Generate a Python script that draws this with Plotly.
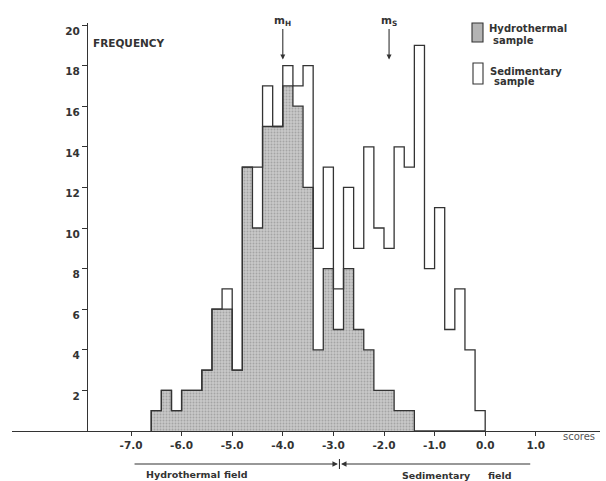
import plotly.graph_objects as go

# ---- data ----
bin_edges = [-6.6, -6.4, -6.2, -6.0, -5.8, -5.6, -5.4, -5.2, -5.0, -4.8, -4.6,
             -4.4, -4.2, -4.0, -3.8, -3.6, -3.4, -3.2, -3.0, -2.8, -2.6, -2.4,
             -2.2, -2.0, -1.8, -1.6, -1.4, -1.2, -1.0, -0.8, -0.6, -0.4, -0.2, 0.0]
hydrothermal = [1, 2, 1, 2, 2, 3, 6, 6, 3, 13, 10, 15, 15, 17, 16, 12, 4, 8, 5, 8,
                5, 4, 2, 2, 1, 1, 0, 0, 0, 0, 0, 0, 0]
sedimentary = [0, 0, 0, 0, 0, 0, 0, 1, 0, 0, 3, 2, 0, 1, 1, 6, 5, 5, 2, 4,
               4, 10, 8, 7, 13, 12, 19, 8, 11, 5, 7, 4, 1]
x_tickvals = [-7.0, -6.0, -5.0, -4.0, -3.0, -2.0, -1.0, 0.0, 1.0]
x_ticktext = ["-7.0", "-6.0", "-5.0", "-4.0", "-3.0", "-2.0", "-1.0", "0.0", "1.0"]
y_tickvals = [2, 4, 6, 8, 10, 12, 14, 16, 18, 20]
m_H = -4.0
m_S = -1.9
field_boundary = -2.88
hydro_field_start = -6.96
sed_field_end = 0.92

INK = "#333333"
GREY = "#b4b4b4"
FONT = "DejaVu Sans"

total = [h + s for h, s in zip(hydrothermal, sedimentary)]


def step_xy(edges, vals):
    xs = [edges[0]] + list(edges[:-1]) + [edges[-1]]
    ys = [0] + list(vals) + [0]
    return xs, ys


fig = go.Figure()

hx, hy = step_xy(bin_edges, hydrothermal)
fig.add_trace(go.Scatter(
    x=hx, y=hy, mode="lines", line=dict(shape="hv", color=INK, width=1.3),
    fill="tozeroy", fillcolor=GREY,
    fillpattern=dict(shape=".", fgcolor="#808080", bgcolor="#c8c8c8", size=3, solidity=0.3),
    name="Hydrothermal sample", showlegend=False, hoverinfo="skip"))

tx, ty = step_xy(bin_edges, total)
fig.add_trace(go.Scatter(
    x=tx, y=ty, mode="lines", line=dict(shape="hv", color=INK, width=1.3),
    name="Sedimentary sample", showlegend=False, hoverinfo="skip"))

W, H = 606, 481
ml, mr, mt, mb = 12, 6, 23, 50
pw = W - ml - mr
ph = H - mt - mb
yaxis_pos = (87 - ml) / pw


def py2paper(py):
    return (H - mb - py) / ph


def px2paper(px):
    return (px - ml) / pw


tick_font = dict(family=FONT, size=10.5, color=INK, weight="bold")

fig.update_layout(
    width=W, height=H,
    margin=dict(l=ml, r=mr, t=mt, b=mb),
    paper_bgcolor="white", plot_bgcolor="white",
    showlegend=False,
    xaxis=dict(range=[-9.352, 2.269], showgrid=False, zeroline=False,
               showline=True, linecolor=INK, linewidth=1.3,
               ticks="outside", ticklen=4, tickcolor=INK, tickwidth=1,
               tickvals=x_tickvals, ticktext=x_ticktext, tickfont=tick_font),
    yaxis=dict(range=[0, 20.1], anchor="free", position=yaxis_pos,
               showgrid=False, zeroline=False,
               showline=True, linecolor=INK, linewidth=1.3,
               ticks="outside", ticklen=5, tickcolor=INK, tickwidth=1,
               tickvals=y_tickvals, ticklabelshift=6, tickfont=tick_font),
)

ann_font = dict(family=FONT, size=10, color=INK, weight="bold")
small_font = dict(family=FONT, size=9.5, color=INK, weight="bold")

# y-axis title
fig.add_annotation(x=px2paper(91), y=py2paper(43), xref="paper", yref="paper",
                   text="FREQUENCY", showarrow=False, xanchor="left", yanchor="middle",
                   font=dict(family=FONT, size=10.5, color=INK, weight="bold"))
# x-axis label
fig.add_annotation(x=px2paper(579), y=py2paper(436), xref="paper", yref="paper",
                   text="scores", showarrow=False, xanchor="center", yanchor="middle",
                   font=dict(family=FONT, size=10, color="#555555"))

# mean markers
for xm, lab in [(m_H, "m<sub>H</sub>"), (m_S, "m<sub>S</sub>")]:
    fig.add_annotation(x=xm, y=18.3, xref="x", yref="y", text=lab,
                       showarrow=True, ax=0, ay=-39, arrowhead=2, arrowsize=0.9,
                       arrowwidth=1.1, arrowcolor=INK,
                       font=dict(family=FONT, size=10.5, color=INK, weight="bold"))

# legend
fig.add_shape(type="rect", xref="paper", yref="paper",
              x0=px2paper(472), x1=px2paper(483), y0=py2paper(42), y1=py2paper(23),
              line=dict(color=INK, width=1.1), fillcolor=GREY)
fig.add_shape(type="rect", xref="paper", yref="paper",
              x0=px2paper(473), x1=px2paper(483), y0=py2paper(84), y1=py2paper(63),
              line=dict(color=INK, width=1.1), fillcolor="white")
for txt, px, py in [("Hydrothermal", 487, 29), ("sample", 491, 41),
                    ("Sedimentary", 488, 71), ("sample", 492, 81)]:
    fig.add_annotation(x=px2paper(px), y=py2paper(py), xref="paper", yref="paper",
                       text=txt, showarrow=False, xanchor="left", yanchor="middle",
                       font=ann_font)

# field arrows below the axis
fy = py2paper(464)
fig.add_annotation(x=field_boundary - 0.03, y=fy, ax=hydro_field_start, ay=0,
                   xref="x", yref="paper", axref="x", ayref="pixel", text="",
                   showarrow=True, arrowhead=2, arrowsize=1, arrowwidth=1.1, arrowcolor=INK)
fig.add_annotation(x=field_boundary + 0.03, y=fy, ax=sed_field_end, ay=0,
                   xref="x", yref="paper", axref="x", ayref="pixel", text="",
                   showarrow=True, arrowhead=2, arrowsize=1, arrowwidth=1.1, arrowcolor=INK)
fig.add_shape(type="line", xref="x", yref="paper", x0=field_boundary, x1=field_boundary,
              y0=py2paper(459), y1=py2paper(469), line=dict(color=INK, width=1.1))
for txt, px, py in [("Hydrothermal", 182.5, 474), ("field", 235.5, 474),
                    ("Sedimentary", 436, 475), ("field", 500, 475)]:
    fig.add_annotation(x=px2paper(px), y=py2paper(py), xref="paper", yref="paper",
                       text=txt, showarrow=False, xanchor="center", yanchor="middle",
                       font=small_font)

fig.write_html("out.html", post_script="document.body.style.margin='0px';",
               config={"displayModeBar": False})
